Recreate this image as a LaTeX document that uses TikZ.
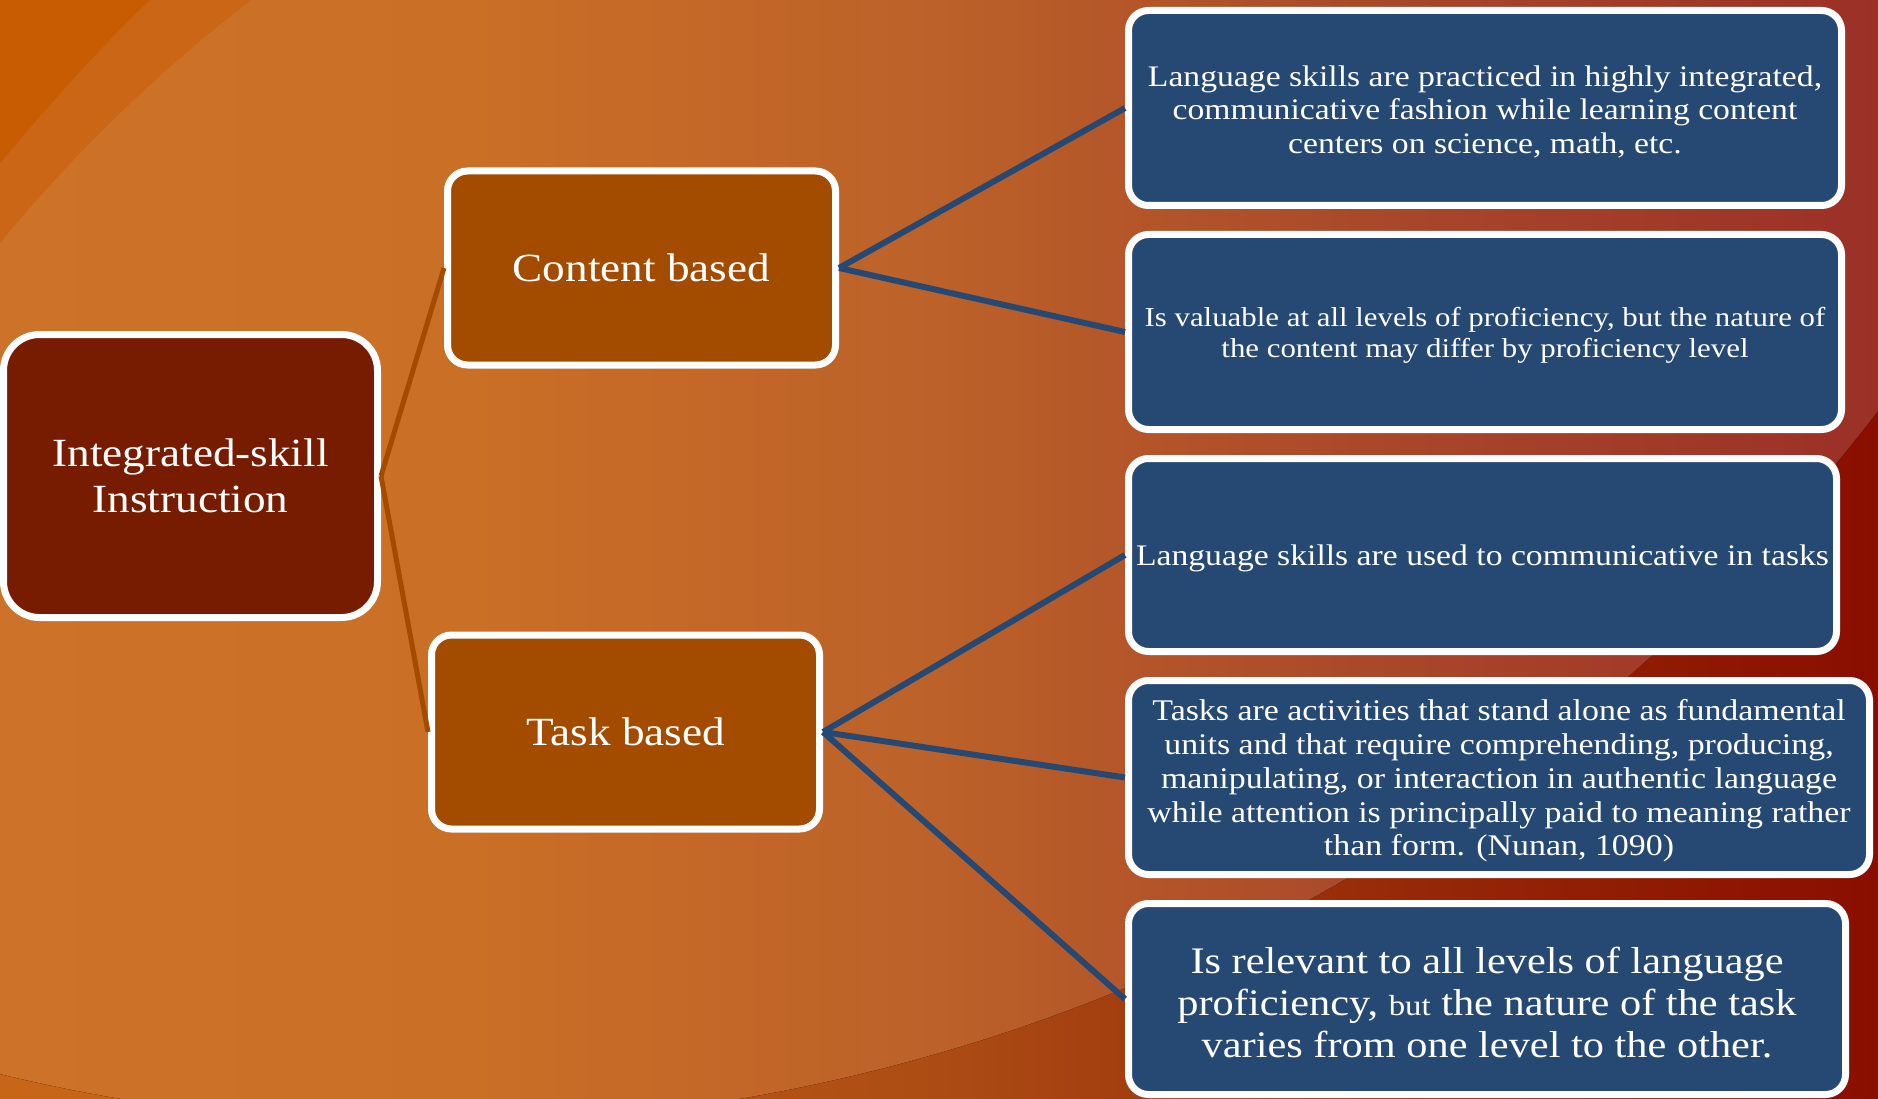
\documentclass[tikz,border=0pt]{standalone}
\usepackage{fontspec}
\setmainfont{Liberation Serif}[FakeStretch=1.13]
\definecolor{Lzero}{RGB}{205,114,41}
\definecolor{Lone}{RGB}{202,111,38}
\definecolor{Ltwo}{RGB}{188,97,41}
\definecolor{Lthree}{RGB}{168,70,42}
\definecolor{Lfour}{RGB}{155,48,39}
\definecolor{Dzero}{RGB}{200,102,24}
\definecolor{Done}{RGB}{192,92,22}
\definecolor{Dtwo}{RGB}{172,76,20}
\definecolor{Dthree}{RGB}{150,40,8}
\definecolor{Dfour}{RGB}{138,14,0}
\definecolor{cornerA}{RGB}{200,92,2}
\definecolor{cornerB}{RGB}{203,102,22}
\definecolor{rootred}{RGB}{119,28,0}
\definecolor{midbrown}{RGB}{163,76,0}
\definecolor{leafblue}{RGB}{38,73,115}
\pgfdeclarehorizontalshading{bglight}{100bp}{color(0bp)=(Lzero); color(25bp)=(Lzero); color(37.5bp)=(Lone); color(50bp)=(Ltwo); color(62.5bp)=(Lthree); color(75bp)=(Lfour); color(100bp)=(Lfour)}
\pgfdeclarehorizontalshading{bgdark}{100bp}{color(0bp)=(Dzero); color(25bp)=(Dzero); color(37.5bp)=(Done); color(50bp)=(Dtwo); color(62.5bp)=(Dthree); color(75bp)=(Dfour); color(100bp)=(Dfour)}
\tikzset{
  box/.style={draw=white, line width=7pt, rounded corners=20pt, text=white, align=center, inner sep=0pt},
  rootbox/.style={box, fill=rootred, rounded corners=36pt, minimum width=374pt, minimum height=283pt, font=\fontsize{40}{45.5}\selectfont},
  midbox/.style={box, fill=midbrown, minimum width=388pt, minimum height=194pt, font=\fontsize{40}{45.5}\selectfont},
  leafbox/.style={box, fill=leafblue},
  leaftext/.style={text=white, align=center, inner sep=0pt, yshift=-3.5pt},
  brownline/.style={draw=midbrown, line width=5pt},
  blueline/.style={draw=leafblue, line width=6pt},
}
\begin{document}
\begin{tikzpicture}[x=1pt, y=-1pt]
\useasboundingbox (0,0) rectangle (1878,1099);
% background
\fill[shading=bgdark] (0,0) rectangle (1878,1099);
\begin{scope}
  \clip (430,-700) circle (1825);
  \fill[shading=bglight] (0,0) rectangle (1878,1099);
\end{scope}
\fill[cornerB] (0,0) -- (0,243) .. controls (75,152) and (158,72) .. (251,0) -- cycle;
\fill[cornerA] (0,0) -- (0,163) .. controls (45,110) and (95,52) .. (150,0) -- cycle;

% nodes
\node[rootbox] (root) at (190.5,476) {Integrated-skill\\Instruction};
\node[midbox] (content) at (641.5,268) {Content based};
\node[midbox] (task) at (625.5,732) {Task based};

\node[leafbox, minimum width=713pt, minimum height=195pt] (r1) at (1485,108) {};
\node[leaftext, font=\fontsize{29.8}{33.5}\selectfont] (r1t) at (r1.center)
  {Language skills are practiced in highly integrated,\\communicative fashion while learning content\\centers on science, math, etc.};
\node[leafbox, minimum width=713pt, minimum height=195pt] (r2) at (1485,332) {};
\node[leaftext, font=\fontsize{27.3}{31}\selectfont] (r2t) at (r2.center)
  {Is valuable at all levels of proficiency, but the nature of\\the content may differ by proficiency level};
\node[leafbox, minimum width=708pt, minimum height=193pt] (r3) at (1482.5,555) {};
\node[leaftext, font=\fontsize{29.8}{33.5}\selectfont] (r3t) at (r3.center)
  {Language skills are used to communicative in tasks};
\node[leafbox, minimum width=741pt, minimum height=194pt] (r4) at (1499,777.5) {};
\node[leaftext, font=\fontsize{30}{33.8}\selectfont] (r4t) at (r4.center)
  {Tasks are activities that stand alone as fundamental\\units and that require comprehending, producing,\\manipulating, or interaction in authentic language\\while attention is principally paid to meaning rather\\than form. (Nunan, 1090)};
\node[leafbox, minimum width=717pt, minimum height=191pt] (r5) at (1487,999) {};
\node[leaftext, font=\fontsize{37.5}{42}\selectfont] (r5t) at (r5.center)
  {Is relevant to all levels of language\\proficiency, {\fontsize{29}{42}\selectfont but} the nature of the task\\varies from one level to the other.};

% connectors
\draw[brownline] (root.east) -- (content.west);
\draw[brownline] (root.east) -- (task.west);
\draw[blueline] (content.east) -- (r1.west);
\draw[blueline] (content.east) -- (r2.west);
\draw[blueline] (task.east) -- (r3.west);
\draw[blueline] (task.east) -- (r4.west);
\draw[blueline] (task.east) -- (r5.west);
\end{tikzpicture}
\end{document}
